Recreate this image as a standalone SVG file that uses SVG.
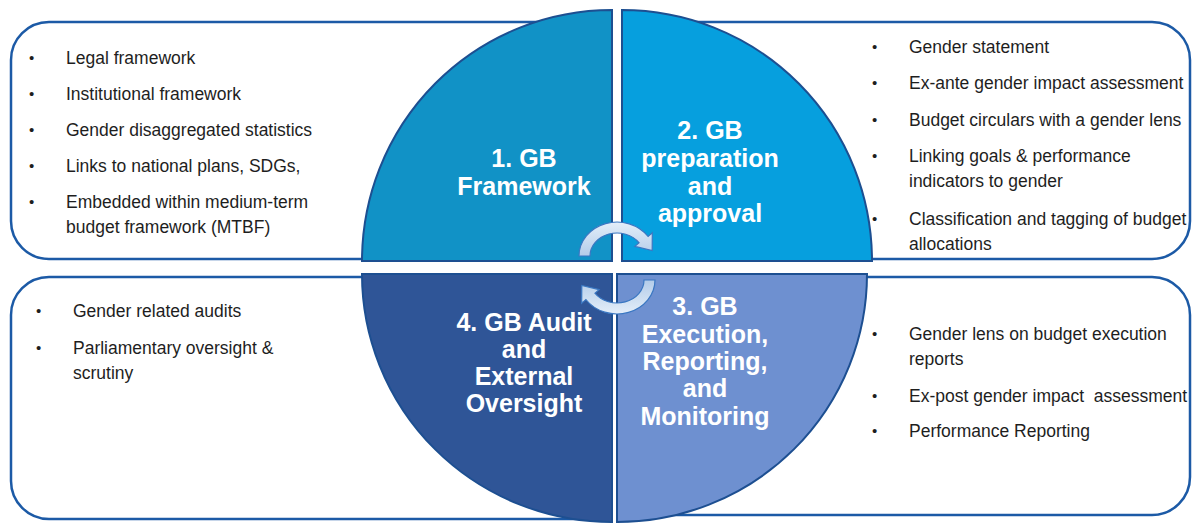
<svg xmlns="http://www.w3.org/2000/svg" width="1194" height="523" viewBox="0 0 1194 523">
<defs>
<linearGradient id="arrowFill" x1="0" y1="0" x2="0" y2="1">
<stop offset="0" stop-color="#e4eef9"/>
<stop offset="1" stop-color="#b3cce9"/>
</linearGradient>
<style>
.box{fill:#ffffff;stroke:#1c5aa6;stroke-width:2.5;}
.quad{stroke:#1d4f91;stroke-width:2;}
.item{font-family:"Liberation Sans",Arial,sans-serif;font-size:17.5px;fill:#1e1e1e;}
.dot{font-family:"Liberation Sans",Arial,sans-serif;font-size:15px;fill:#1e1e1e;}
.label{font-family:"Liberation Sans",Arial,sans-serif;font-size:25px;font-weight:bold;fill:#ffffff;text-anchor:middle;}
.arrow{fill:url(#arrowFill);stroke:#3a77c2;stroke-width:1.2;}
</style>
</defs>
<rect x="0" y="0" width="1194" height="523" fill="#ffffff"/>

<g id="box-framework">
<path class="box" d="M600,22 H49 A38 38 0 0 0 11,60 V221 A38 38 0 0 0 49,259 H600"/>
<text class="dot" x="29" y="63">•</text><text class="item" x="66" y="64">Legal framework</text>
<text class="dot" x="29" y="99">•</text><text class="item" x="66" y="100">Institutional framework</text>
<text class="dot" x="29" y="135">•</text><text class="item" x="66" y="136">Gender disaggregated statistics</text>
<text class="dot" x="29" y="171">•</text><text class="item" x="66" y="172">Links to national plans, SDGs,</text>
<text class="dot" x="29" y="207">•</text><text class="item" x="66" y="208">Embedded within medium-term</text>
<text class="item" x="66" y="233">budget framework (MTBF)</text>
</g>

<g id="box-preparation">
<path class="box" d="M630,22 H1152 A38 38 0 0 1 1190,60 V221 A38 38 0 0 1 1152,259 H630"/>
<text class="dot" x="872" y="52">•</text><text class="item" x="909" y="53">Gender statement</text>
<text class="dot" x="872" y="88">•</text><text class="item" x="909" y="89">Ex-ante gender impact assessment</text>
<text class="dot" x="872" y="125">•</text><text class="item" x="909" y="126">Budget circulars with a gender lens</text>
<text class="dot" x="872" y="161">•</text><text class="item" x="909" y="162">Linking goals &amp; performance</text>
<text class="item" x="909" y="187">indicators to gender</text>
<text class="dot" x="872" y="224">•</text><text class="item" x="909" y="225">Classification and tagging of budget</text>
<text class="item" x="909" y="250">allocations</text>
</g>

<g id="box-audit">
<path class="box" d="M600,277 H49 A38 38 0 0 0 11,315 V481 A38 38 0 0 0 49,519 H600"/>
<text class="dot" x="36" y="316">•</text><text class="item" x="73" y="317">Gender related audits</text>
<text class="dot" x="36" y="353">•</text><text class="item" x="73" y="354">Parliamentary oversight &amp;</text>
<text class="item" x="73" y="379">scrutiny</text>
</g>

<g id="box-execution">
<path class="box" d="M630,277 H1152 A38 38 0 0 1 1190,315 V477 A38 38 0 0 1 1152,515 H630"/>
<text class="dot" x="872" y="339">•</text><text class="item" x="909" y="340">Gender lens on budget execution</text>
<text class="item" x="909" y="365">reports</text>
<text class="dot" x="872" y="401">•</text><text class="item" x="909" y="402" xml:space="preserve">Ex-post gender impact  assessment</text>
<text class="dot" x="872" y="436">•</text><text class="item" x="909" y="437">Performance Reporting</text>
</g>

<g id="quad-1-framework">
<path class="quad" fill="#1192c6" d="M612,261 H362 A250 251 0 0 1 612,10 Z"/>
<text class="label" x="524" y="167">1. GB</text>
<text class="label" x="524" y="195">Framework</text>
</g>

<g id="quad-2-preparation">
<path class="quad" fill="#069fde" d="M622,261 V10 A250 251 0 0 1 872,261 Z"/>
<text class="label" x="710" y="139">2. GB</text>
<text class="label" x="710" y="167">preparation</text>
<text class="label" x="710" y="195">and</text>
<text class="label" x="710" y="222">approval</text>
</g>

<g id="quad-3-execution">
<path class="quad" fill="#6e90d0" d="M617,274 H867 A250 248 0 0 1 617,522 Z"/>
<text class="label" x="705" y="315">3. GB</text>
<text class="label" x="705" y="343">Execution,</text>
<text class="label" x="705" y="370">Reporting,</text>
<text class="label" x="705" y="397">and</text>
<text class="label" x="705" y="425">Monitoring</text>
</g>

<g id="quad-4-audit">
<path class="quad" fill="#2f5597" d="M612,274 V522 A250 248 0 0 1 362,274 Z"/>
<text class="label" x="524" y="331">4. GB Audit</text>
<text class="label" x="524" y="358">and</text>
<text class="label" x="524" y="385">External</text>
<text class="label" x="524" y="412">Oversight</text>
</g>

<g id="connectors">
<path id="cycle-arrow-top" class="arrow" d="M579,256 A38 34 0 0 1 648.1,236.5 L652.3,232.8 L652.2,250.6 L634.9,246.4 L639.1,242.8 A27 23 0 0 0 590,256 Z"/>
<path id="cycle-arrow-bottom" class="arrow" transform="rotate(180 617 268)" d="M579,256 A38 34 0 0 1 648.1,236.5 L652.3,232.8 L652.2,250.6 L634.9,246.4 L639.1,242.8 A27 23 0 0 0 590,256 Z"/>
</g>
</svg>
